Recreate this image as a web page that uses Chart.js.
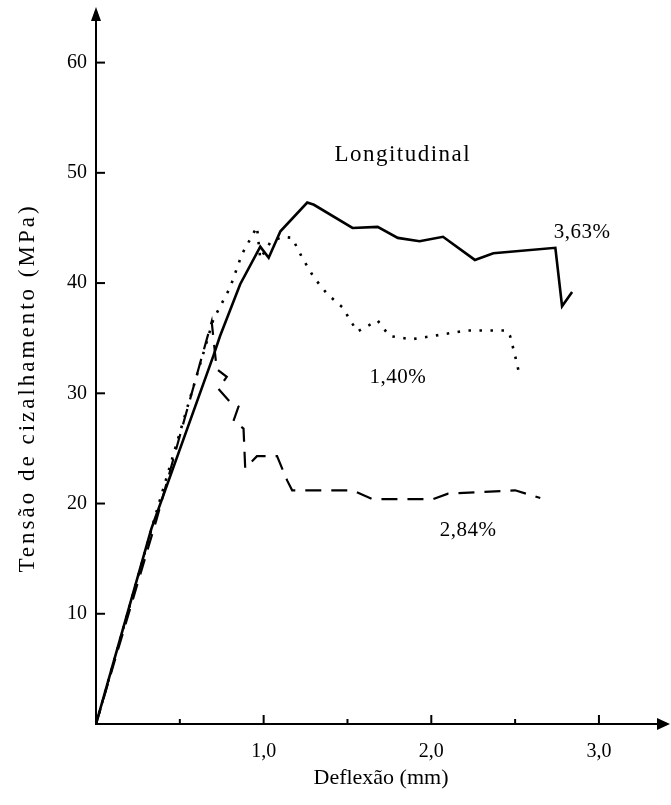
<!DOCTYPE html>
<html>
<head>
<meta charset="utf-8">
<script src="https://cdn.jsdelivr.net/npm/chart.js@4.4.0/dist/chart.umd.min.js"></script>
<style>
  html, body { margin: 0; padding: 0; background: #fff; }
  #wrap { width: 671px; height: 805px; position: relative; }
</style>
</head>
<body>
<div id="wrap"><canvas id="c"></canvas></div>
<script>
// Deflection (mm) / shear stress (MPa)
const solidX  = [0, 0.33, 0.70, 0.74, 0.86, 0.98, 1.03, 1.10, 1.26, 1.30, 1.53, 1.68, 1.80, 1.93, 2.07, 2.26, 2.37, 2.74, 2.78, 2.84];
const solidY  = [0, 17.7, 33.4, 35.2, 39.9, 43.3, 42.3, 44.7, 47.3, 47.1, 45.0, 45.1, 44.1, 43.8, 44.2, 42.1, 42.7, 43.2, 37.9, 39.2];

const dottedX = [0, 0.35, 0.70, 0.80, 0.87, 0.96, 0.98, 1.04, 1.11, 1.17, 1.23, 1.30, 1.38, 1.47, 1.53, 1.56, 1.62, 1.68, 1.75, 1.88, 2.01, 2.21, 2.45, 2.47, 2.50, 2.53];
const dottedY = [0, 18.7, 36.7, 39.6, 42.6, 45.1, 42.2, 43.7, 44.2, 44.1, 42.3, 40.5, 39.0, 37.8, 36.3, 35.6, 36.1, 36.6, 35.2, 34.9, 35.2, 35.7, 35.7, 35.2, 33.4, 31.4];

const dashedX = [0, 0.36, 0.69, 0.72, 0.78, 0.73, 0.80, 0.85, 0.82, 0.88, 0.89, 0.96, 1.08, 1.14, 1.17, 1.53, 1.65, 2.01, 2.10, 2.50, 2.65];
const dashedY = [0, 18.5, 36.5, 32.2, 31.5, 30.4, 29.2, 28.8, 27.5, 26.8, 23.2, 24.3, 24.3, 22.1, 21.2, 21.2, 20.4, 20.4, 20.9, 21.2, 20.5];

const seriesNames = ["3,63%", "1,40%", "2,84%"];
const labelPos = [[2.90, 44.6], [1.80, 31.4], [2.22, 17.6]];
const chartTitle = "Longitudinal";
const titlePos = [1.83, 51.6];

const xTickValues = [1, 2, 3];
const xTickLabels = ["1,0", "2,0", "3,0"];
const xMinorTicks = [0.5, 1.5, 2.5];
const yTickValues = [10, 20, 30, 40, 50, 60];
const yTickLabels = ["10", "20", "30", "40", "50", "60"];

const xTitle = "Deflexão (mm)";
const yTitle = "Tensão de cizalhamento (MPa)";

const zip = (xs, ys) => xs.map((x, i) => ({x: x, y: ys[i]}));
const FONT = "'Liberation Serif', 'DejaVu Serif', serif";

const decor = {
  id: 'decor',
  afterDraw(chart) {
    const ctx = chart.ctx;
    const xs = chart.scales.x, ys = chart.scales.y;
    const x0 = xs.getPixelForValue(0), y0 = ys.getPixelForValue(0);
    const xEnd = xs.right, yTop = ys.top;
    ctx.save();
    ctx.strokeStyle = '#000';
    ctx.fillStyle = '#000';
    ctx.lineWidth = 2;
    // tick marks (inward)
    xTickValues.forEach(v => { const p = xs.getPixelForValue(v); ctx.beginPath(); ctx.moveTo(p, y0); ctx.lineTo(p, y0 - 9); ctx.stroke(); });
    xMinorTicks.forEach(v => { const p = xs.getPixelForValue(v); ctx.beginPath(); ctx.moveTo(p, y0); ctx.lineTo(p, y0 - 5); ctx.stroke(); });
    yTickValues.forEach(v => { const p = ys.getPixelForValue(v); ctx.beginPath(); ctx.moveTo(x0, p); ctx.lineTo(x0 + 9, p); ctx.stroke(); });
    // arrows
    ctx.beginPath(); ctx.moveTo(xEnd + 4, y0); ctx.lineTo(xEnd - 9, y0 - 6); ctx.lineTo(xEnd - 9, y0 + 6); ctx.closePath(); ctx.fill();
    ctx.beginPath(); ctx.moveTo(x0, yTop - 6); ctx.lineTo(x0 - 5, yTop + 8); ctx.lineTo(x0 + 5, yTop + 8); ctx.closePath(); ctx.fill();
    // annotations
    ctx.textAlign = 'center';
    ctx.textBaseline = 'middle';
    ctx.font = "23px " + FONT;
    ctx.letterSpacing = '1.5px';
    ctx.fillText(chartTitle, xs.getPixelForValue(titlePos[0]), ys.getPixelForValue(titlePos[1]));
    ctx.font = "21px " + FONT;
    ctx.letterSpacing = '0.5px';
    seriesNames.forEach((n, i) => ctx.fillText(n, xs.getPixelForValue(labelPos[i][0]), ys.getPixelForValue(labelPos[i][1])));
    // y axis title
    ctx.translate(28, 388);
    ctx.rotate(-Math.PI / 2);
    ctx.font = "23px " + FONT;
    ctx.letterSpacing = '3px';
    ctx.fillText(yTitle, 0, 0);
    ctx.restore();
  }
};

new Chart(document.getElementById('c'), {
  type: 'scatter',
  data: {
    datasets: [
      { label: seriesNames[0], data: zip(solidX, solidY), showLine: true, borderColor: '#000', borderWidth: 2.6, pointRadius: 0, tension: 0 },
      { label: seriesNames[1], data: zip(dottedX, dottedY), showLine: true, borderColor: '#000', borderWidth: 2.6, borderDash: [2.5, 8.5], borderCapStyle: 'butt', pointRadius: 0, tension: 0 },
      { label: seriesNames[2], data: zip(dashedX, dashedY), showLine: true, borderColor: '#000', borderWidth: 2.2, borderDash: [16, 10], pointRadius: 0, tension: 0 }
    ]
  },
  options: {
    responsive: true,
    maintainAspectRatio: false,
    animation: false,
    layout: { padding: { top: 12, right: 5, left: 0, bottom: 0 } },
    plugins: { legend: { display: false }, tooltip: { enabled: false } },
    scales: {
      x: {
        type: 'linear', min: 0, max: 3.4,
        afterFit: s => { s.height = 81; },
        afterBuildTicks: s => { s.ticks = xTickValues.map(v => ({value: v})); },
        ticks: { autoSkip: false, maxRotation: 0, padding: 8, color: '#000', font: { family: FONT, size: 20 },
                 callback: (v) => { const i = xTickValues.indexOf(v); return i >= 0 ? xTickLabels[i] : ''; } },
        grid: { display: false },
        border: { display: true, color: '#000', width: 2 },
        title: { display: true, text: xTitle, color: '#000', font: { family: FONT, size: 22 }, padding: { top: 0, bottom: 14 } }
      },
      y: {
        type: 'linear', min: 0, max: 64.5,
        afterFit: s => { s.width = 96; },
        afterBuildTicks: s => { s.ticks = yTickValues.map(v => ({value: v})); },
        ticks: { autoSkip: false, padding: 1, color: '#000', font: { family: FONT, size: 20 },
                 callback: (v) => { const i = yTickValues.indexOf(v); return i >= 0 ? yTickLabels[i] : ''; } },
        grid: { display: false },
        border: { display: true, color: '#000', width: 2 }
      }
    }
  },
  plugins: [decor]
});
</script>
</body>
</html>
